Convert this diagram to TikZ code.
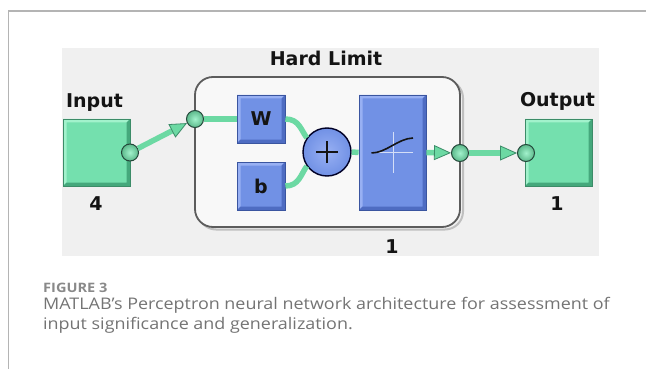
\documentclass[tikz,border=0pt]{standalone}
\usepackage{fontspec}
\setmainfont{Open Sans}[FakeStretch=1.12]
\newfontfamily\diafont{DejaVu Sans}
\usetikzlibrary{arrows.meta}

\definecolor{framegray}{HTML}{B4B4B4}
\definecolor{panelgray}{HTML}{F0F0F0}
\definecolor{layerfill}{HTML}{F8F8F8}
\definecolor{layerline}{HTML}{5C5C5C}
\definecolor{gbase}{HTML}{74E0AE}
\definecolor{glight}{HTML}{A2F2CC}
\definecolor{gdark}{HTML}{45A87C}
\definecolor{gedge}{HTML}{3C8C68}
\definecolor{gline}{HTML}{6CD9A3}
\definecolor{portedge}{HTML}{24473A}
\definecolor{bbase}{HTML}{7191E5}
\definecolor{blight}{HTML}{98B0F3}
\definecolor{bdark}{HTML}{4E6CC2}
\definecolor{bedge}{HTML}{3A55A0}
\definecolor{captgray}{HTML}{747474}
\definecolor{labelink}{HTML}{141414}

\tikzset{
  bevel/.style n args={2}{path picture={
    \def\pb{path picture bounding box}
    \fill[#1] (\pb.north west) -- (\pb.north east) -- ([shift={(-3.5pt,-3.5pt)}]\pb.north east)
      -- ([shift={(3.5pt,-3.5pt)}]\pb.north west) -- ([shift={(3.5pt,3.5pt)}]\pb.south west)
      -- (\pb.south west) -- cycle;
    \fill[#2] (\pb.south east) -- (\pb.north east) -- ([shift={(-3.5pt,-3.5pt)}]\pb.north east)
      -- ([shift={(-3.5pt,3.5pt)}]\pb.south east) -- ([shift={(3.5pt,3.5pt)}]\pb.south west)
      -- (\pb.south west) -- cycle;
  }},
  greenblock/.style={rectangle, inner sep=0pt, minimum width=67pt, minimum height=67pt,
    fill=gbase, draw=gedge, line width=0.8pt, bevel={glight}{gdark}},
  blueblock/.style={rectangle, inner sep=0pt, minimum width=48pt, minimum height=48pt,
    fill=bbase, draw=bedge, line width=0.8pt, bevel={blight}{bdark},
    font=\diafont\bfseries\fontsize{19}{22}\selectfont, text=labelink},
  port/.style={circle, inner sep=0pt, minimum size=17pt, draw=portedge, line width=1pt,
    inner color=glight, outer color=gline!85!black},
  lbl/.style={font=\diafont\bfseries\fontsize{19}{22}\selectfont, text=labelink, inner sep=0pt, anchor=base},
  wire/.style={draw=gline, line width=5.5pt},
  warrow/.style={wire, -{Triangle[length=17pt,width=15pt,line width=0.8pt,fill=gline,color=gedge]}},
  capt/.style={inner sep=0pt, anchor=base west, text=captgray, font=\fontsize{16}{19}\selectfont}
}

\begin{document}
\begin{tikzpicture}[x=1pt,y=-1pt]
\useasboundingbox (0,0) rectangle (646,369);
\fill[white] (0,0) rectangle (646,369);

% open frame around the figure
\draw[framegray, line width=1.5pt] (8.7,369) -- (8.7,11) -- (646,11);

% grey canvas of the network view
\fill[panelgray] (61.7,47.7) rectangle (598.7,255.5);

% layer container with a soft shadow
\draw[rounded corners=18pt, draw=black!25, line width=2pt] (198,80) rectangle (463,229.5);
\node[rectangle, rounded corners=18pt, draw=layerline, fill=layerfill, line width=1.8pt,
      minimum width=265pt, minimum height=150pt, inner sep=0pt] (layer) at (327.5,152) {};

% input and output blocks
\node[greenblock] (inp) at (96.5,152.5) {};
\node[greenblock] (outp) at (558.5,152.5) {};

% weight, bias, summation and transfer function
\node[blueblock] (w) at (261,119) {W};
\node[blueblock] (b) at (261,186) {b};
\node[circle, minimum size=48pt, inner sep=0pt, draw=black!85!blue, line width=1.4pt,
      inner color=blight, outer color=bbase] (sum) at (327,152) {};
\draw[line width=2pt, labelink] ([xshift=-11pt]sum.center) -- ([xshift=11pt]sum.center);
\draw[line width=2pt, labelink] ([yshift=-11pt]sum.center) -- ([yshift=11pt]sum.center);
\node[rectangle, inner sep=0pt, minimum width=67pt, minimum height=115pt,
      fill=bbase, draw=bedge, line width=0.8pt, bevel={blight}{bdark}] (act) at (392.5,152.5) {};
\draw[white!70!bbase, line width=1pt] (393,132) -- (393,173) (375,152) -- (413,152);
\draw[labelink, line width=1.6pt] (371.5,153) .. controls (386,153) and (398,138.5) .. (413,138);

% ports
\node[port] (inport) at (130,152.5) {};
\node[port] (lin) at (195,119) {};
\node[port] (lout) at (460,153) {};
\node[port] (oport) at (526,153) {};

% connections
\draw[warrow] (inport) -- (lin);
\draw[wire] (lin) -- (w.west);
\draw[wire] (w.east) .. controls (299,119) and (301,130) .. (sum.145);
\draw[wire] (b.east) .. controls (299,186) and (301,174) .. (sum.215);
\draw[wire] (sum.east) -- (act.west);
\draw[warrow] (act.east) -- (lout);
\draw[warrow] (lout) -- (oport);

% labels
\node[lbl] (tl) at (326,66) {Hard Limit};
\node[lbl] (tin) at (94.5,108) {Input};
\node[lbl] (tout) at (557.5,106.7) {Output};
\node[lbl] (nin) at (96,210) {4};
\node[lbl] (nout) at (557,210) {1};
\node[lbl] (nlay) at (392,253) {1};

% caption
\node[capt, font=\bfseries\fontsize{13}{15}\selectfont, text=captgray!85] (fig) at (43,292.7) {FIGURE 3};
\node[capt] (c1) at (43,309.3) {MATLAB’s Perceptron neural network architecture for assessment of};
\node[capt] (c2) at (43,329.5) {input significance and generalization.};
\end{tikzpicture}
\end{document}
